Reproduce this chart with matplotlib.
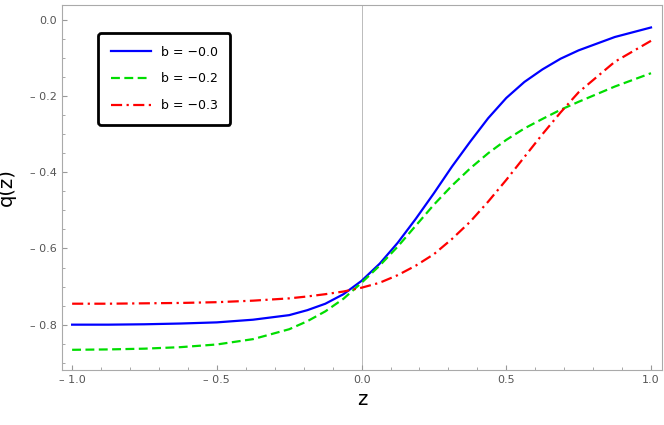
import matplotlib.pyplot as plt
import numpy as np

z = [-1.0, -0.875, -0.75, -0.625, -0.5, -0.375, -0.25, -0.1875, -0.125, -0.0625,
     0.0, 0.0625, 0.125, 0.1875, 0.25, 0.3125, 0.375, 0.4375, 0.5, 0.5625,
     0.625, 0.6875, 0.75, 0.875, 1.0]
q_b00 = [-0.800, -0.800, -0.799, -0.797, -0.794, -0.787, -0.775, -0.762, -0.745, -0.720,
         -0.685, -0.640, -0.585, -0.522, -0.455, -0.385, -0.320, -0.258, -0.205, -0.163,
         -0.130, -0.102, -0.080, -0.045, -0.020]
q_b02 = [-0.866, -0.865, -0.863, -0.859, -0.852, -0.838, -0.812, -0.791, -0.765, -0.732,
         -0.690, -0.645, -0.595, -0.540, -0.485, -0.435, -0.390, -0.350, -0.315, -0.285,
         -0.260, -0.236, -0.215, -0.175, -0.140]
q_b03 = [-0.745, -0.745, -0.744, -0.743, -0.741, -0.737, -0.731, -0.726, -0.720, -0.713,
         -0.703, -0.690, -0.670, -0.645, -0.615, -0.575, -0.530, -0.477, -0.420, -0.360,
         -0.300, -0.243, -0.190, -0.110, -0.055]
xticks = [-1.0, -0.5, 0.0, 0.5, 1.0]
yticks = [-0.8, -0.6, -0.4, -0.2, 0.0]


def fmt(v):
    return "0.0" if v == 0 else ("\u2013 %.1f" % abs(v) if v < 0 else "%.1f" % v)


fig = plt.figure(figsize=(6.64, 4.25), dpi=100)
ax = fig.add_axes([62 / 664, 55 / 425, 600 / 664, 365 / 425])
ax.plot(z, q_b00, color="#0000ff", lw=1.6, label="b = \u22120.0")
ax.plot(z, q_b02, color="#00dd00", lw=1.6, ls=(0, (4, 2)), label="b = \u22120.2")
ax.plot(z, q_b03, color="#ff0000", lw=1.6, ls=(0, (5, 2, 1, 2)), label="b = \u22120.3")
ax.axvline(0, color="#bbbbbb", lw=0.7, zorder=0)

ax.set_xlim(-1.035, 1.038)
ax.set_ylim(-0.919, 0.039)
ax.set_xticks(xticks, [fmt(v) for v in xticks])
ax.set_yticks(yticks, [fmt(v) for v in yticks])
ax.set_xticks(np.arange(-1.0, 1.01, 0.1), minor=True)
ax.set_yticks(np.arange(-0.9, 0.03, 0.05), minor=True)
ax.tick_params(colors="#999999", labelcolor="#555555", labelsize=8, direction="in")
ax.tick_params(which="minor", length=2, direction="in", colors="#999999")
for s in ax.spines.values():
    s.set_color("#aaaaaa")
ax.set_xlabel("z", fontsize=14)
ax.set_ylabel("q(z)", fontsize=14, labelpad=10)

leg = ax.legend(loc="upper left", bbox_to_anchor=(0.05, 0.94), fancybox=True,
                framealpha=1, edgecolor="black", fontsize=9, handlelength=3.2,
                borderpad=1.0, labelspacing=1.1)
leg.get_frame().set_linewidth(2)
fig.savefig("out.png", dpi=100)
